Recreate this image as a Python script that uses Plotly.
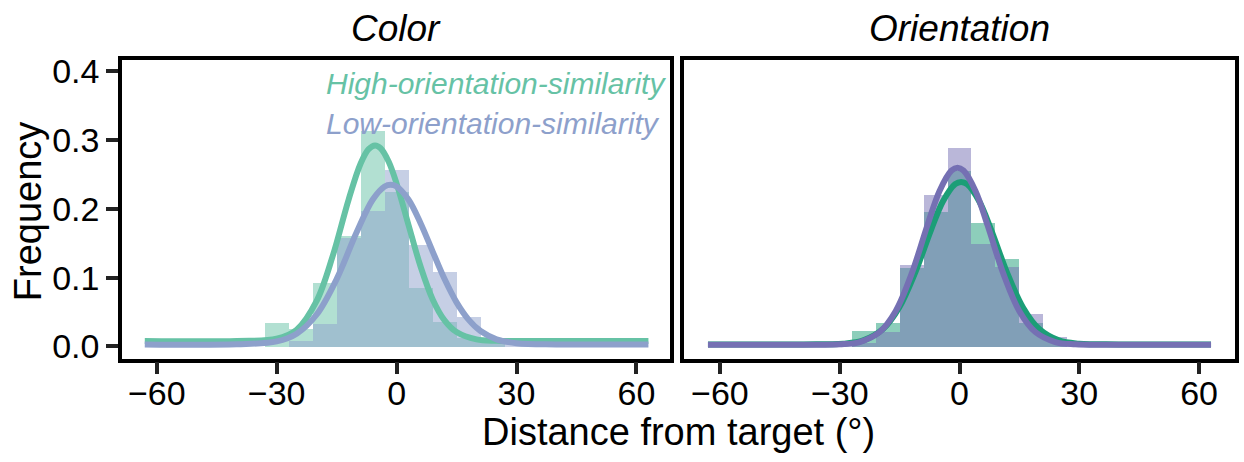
import plotly.graph_objects as go

# ---------------- data ----------------
bin_width = 6
# Color panel histograms (bin centres / frequencies)
color_high_x = [-30, -24, -18, -12, -6, 0, 6, 12, 18, 24]
color_high_y = [0.035, 0.026, 0.093, 0.161, 0.313, 0.225, 0.086, 0.036, 0.013, 0.005]
color_low_x = [-24, -18, -12, -6, 0, 6, 12, 18, 24, 30]
color_low_y = [0.008, 0.033, 0.158, 0.197, 0.257, 0.147, 0.108, 0.043, 0.011, 0.004]
# Orientation panel histograms
ori_high_x = [-24, -18, -12, -6, 0, 6, 12, 18, 24, 48]
ori_high_y = [0.0225, 0.034, 0.114, 0.196, 0.255, 0.180, 0.127, 0.034, 0.010, 0.006]
ori_low_x = [-24, -18, -12, -6, 0, 6, 12, 18, 24, 30]
ori_low_y = [0.005, 0.021, 0.119, 0.220, 0.289, 0.149, 0.116, 0.047, 0.014, 0.004]

# fitted curves
color_high_fit_x = [-63, -40, -30, -25, -20, -16, -12, -9, -7, -5.4, -4, -2, 0, 3, 6, 9, 12, 15, 20, 25, 30, 40, 63]
color_high_fit_y = [0.008, 0.008, 0.0112, 0.0243, 0.0662, 0.1311, 0.2134, 0.2658, 0.2866, 0.292, 0.2879,
                    0.2686, 0.2366, 0.1761, 0.1161, 0.0687, 0.0379, 0.0209, 0.0103, 0.0083, 0.008, 0.008, 0.008]
color_low_fit_x = [-63, -40, -30, -25, -20, -15, -10, -6, -3, -1.5, 0, 3, 6, 9, 12, 15, 18, 21, 25, 30, 40, 63]
color_low_fit_y = [0.003, 0.0032, 0.0073, 0.0185, 0.0464, 0.0979, 0.1658, 0.2131, 0.2324, 0.235, 0.2324,
                   0.2131, 0.179, 0.1382, 0.0979, 0.0641, 0.039, 0.0224, 0.0104, 0.0048, 0.003, 0.003]
ori_high_fit_x = [-63, -39.1, -29.1, -24.1, -19.1, -15.1, -11.1, -7.1, -4.1, -1.1, 0.4, 1.9, 4.9, 7.9,
                  11.9, 15.9, 19.9, 24.9, 29.9, 39.9, 63]
ori_high_fit_y = [0.003, 0.003, 0.0041, 0.0088, 0.0256, 0.0566, 0.1073, 0.1698, 0.2113, 0.2357, 0.239,
                  0.2357, 0.2113, 0.1698, 0.1073, 0.0566, 0.0256, 0.0088, 0.0041, 0.003, 0.003]
ori_low_fit_x = [-63, -40, -30, -25, -20, -16, -12, -8, -5, -2, -0.5, 1, 4, 7, 11, 15, 19, 24, 29, 39, 63]
ori_low_fit_y = [0.0025, 0.0025, 0.0031, 0.0065, 0.021, 0.0512, 0.1054, 0.1766, 0.2259, 0.2555, 0.2595,
                 0.2555, 0.2259, 0.1766, 0.1054, 0.0512, 0.021, 0.0065, 0.0031, 0.0025, 0.0025]

panel_titles = ["Color", "Orientation"]
legend_labels = ["High-orientation-similarity", "Low-orientation-similarity"]
x_tickvals = [-60, -30, 0, 30, 60]
x_ticktext = ["\u221260", "\u221230", "0", "30", "60"]
y_tickvals = [0.0, 0.1, 0.2, 0.3, 0.4]
y_ticktext = ["0.0", "0.1", "0.2", "0.3", "0.4"]

# ---------------- styles ----------------
c_green_l = "#66c2a5"
c_blue_l = "#8da0cb"
c_green_r = "#1b9e77"
c_purple_r = "#7570b3"
FONT = "Liberation Sans, Arial, sans-serif"
W, H = 1244, 462


def rgba(hexc, a):
    h = hexc.lstrip("#")
    return "rgba(%d,%d,%d,%.2f)" % (int(h[0:2], 16), int(h[2:4], 16), int(h[4:6], 16), a)


fig = go.Figure()


def add_bar(x, y, color, xa, ya):
    fig.add_trace(go.Bar(x=x, y=y, width=bin_width, marker=dict(color=rgba(color, 0.5), line=dict(width=0)),
                         xaxis=xa, yaxis=ya, showlegend=False))


def add_line(x, y, color, xa, ya):
    fig.add_trace(go.Scatter(x=x, y=y, mode="lines", line=dict(color=color, width=6, shape="spline", smoothing=1.0),
                             xaxis=xa, yaxis=ya, showlegend=False))


add_bar(color_high_x, color_high_y, c_green_l, "x", "y")
add_bar(color_low_x, color_low_y, c_blue_l, "x", "y")
add_line(color_high_fit_x, color_high_fit_y, c_green_l, "x", "y")
add_line(color_low_fit_x, color_low_fit_y, c_blue_l, "x", "y")

add_bar(ori_high_x, ori_high_y, c_green_r, "x2", "y2")
add_bar(ori_low_x, ori_low_y, c_purple_r, "x2", "y2")
add_line(ori_high_fit_x, ori_high_fit_y, c_green_r, "x2", "y2")
add_line(ori_low_fit_x, ori_low_fit_y, c_purple_r, "x2", "y2")

# geometry in pixels
L1, R1 = 122, 670
L2, R2 = 684, 1235
TOP, BOT = 53.5, 362.5

axis_common = dict(showline=True, linecolor="black", linewidth=3.5, mirror=True, showgrid=False, zeroline=False,
                   ticks="outside", ticklen=12, tickwidth=3.5, tickcolor="#222",
                   tickfont=dict(family=FONT, size=34, color="black"))

yr = [-0.0178, 0.4164]
fig.update_layout(
    width=W, height=H, margin=dict(l=0, r=0, t=0, b=0),
    paper_bgcolor="white", plot_bgcolor="white", barmode="overlay", bargap=0,
    xaxis=dict(domain=[L1 / W, R1 / W], range=[-68.7, 68.4], tickvals=x_tickvals, ticktext=x_ticktext,
               anchor="y", ticklabelstandoff=-10, **axis_common),
    yaxis=dict(domain=[1 - BOT / H, 1 - TOP / H], range=yr, tickvals=y_tickvals, ticktext=y_ticktext,
               anchor="x", **axis_common),
    xaxis2=dict(domain=[L2 / W, R2 / W], range=[-69.0, 69.0], tickvals=x_tickvals, ticktext=x_ticktext,
                anchor="y2", ticklabelstandoff=-10, **axis_common),
    yaxis2=dict(domain=[1 - BOT / H, 1 - TOP / H], range=yr, anchor="x2",
                **{**axis_common, "ticks": "", "showticklabels": False}),
)

ann = []
# panel titles
ann.append(dict(text="<i>%s</i>" % panel_titles[0], x=(L1 + R1) / 2 / W, y=1 - 21 / H, xref="paper", yref="paper",
                showarrow=False, xanchor="center", yanchor="middle", font=dict(family=FONT, size=37, color="black")))
ann.append(dict(text="<i>%s</i>" % panel_titles[1], x=(L2 + R2) / 2 / W, y=1 - 21 / H, xref="paper", yref="paper",
                showarrow=False, xanchor="center", yanchor="middle", font=dict(family=FONT, size=37, color="black")))
# legend texts
ann.append(dict(text="<i>%s</i>" % legend_labels[0], x=324 / W, y=1 - 78 / H, xref="paper", yref="paper",
                showarrow=False, xanchor="left", yanchor="middle", font=dict(family=FONT, size=30, color=c_green_l)))
ann.append(dict(text="<i>%s</i>" % legend_labels[1], x=324 / W, y=1 - 119 / H, xref="paper", yref="paper",
                showarrow=False, xanchor="left", yanchor="middle", font=dict(family=FONT, size=30, color=c_blue_l)))
# axis titles
ann.append(dict(text="Distance from target (\u00b0)", x=678 / W, y=1 - 438 / H, xref="paper", yref="paper",
                showarrow=False, xanchor="center", yanchor="middle", font=dict(family=FONT, size=38, color="black")))
ann.append(dict(text="Frequency", x=28 / W, y=1 - 210 / H, xref="paper", yref="paper", textangle=-90,
                showarrow=False, xanchor="center", yanchor="middle", font=dict(family=FONT, size=38, color="black")))
fig.update_layout(annotations=ann)

fig.write_html("out.html")
